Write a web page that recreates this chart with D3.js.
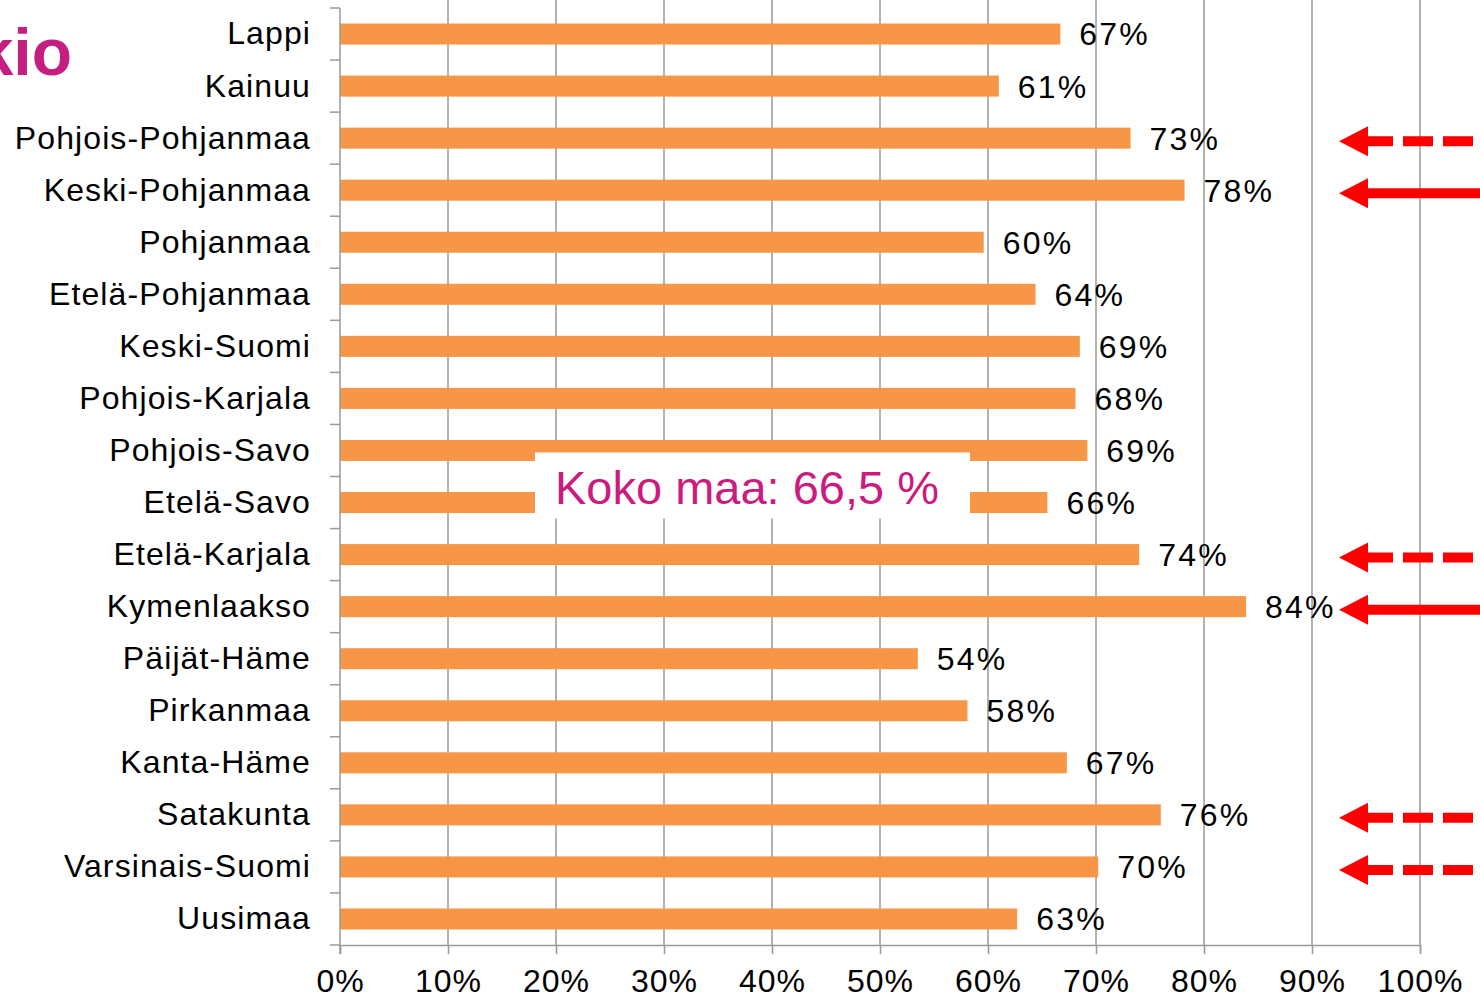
<!DOCTYPE html>
<html>
<head>
<meta charset="utf-8">
<script src="https://cdn.jsdelivr.net/npm/d3@7"></script>
<style>
  body { margin: 0; background: #fff; }
  svg { display: block; font-family: "Liberation Sans", Arial, sans-serif; }
</style>
</head>
<body>
<div id="chart"></div>
<script>
// data
const regions = ["Lappi", "Kainuu", "Pohjois-Pohjanmaa", "Keski-Pohjanmaa", "Pohjanmaa",
  "Etelä-Pohjanmaa", "Keski-Suomi", "Pohjois-Karjala", "Pohjois-Savo", "Etelä-Savo",
  "Etelä-Karjala", "Kymenlaakso", "Päijät-Häme", "Pirkanmaa", "Kanta-Häme",
  "Satakunta", "Varsinais-Suomi", "Uusimaa"];
const shares = [66.7, 61.0, 73.2, 78.2, 59.6, 64.4, 68.5, 68.1, 69.2, 65.5,
  74.0, 83.9, 53.5, 58.1, 67.3, 76.0, 70.2, 62.7];
const xTicks = [0, 10, 20, 30, 40, 50, 60, 70, 80, 90, 100];
// arrows on the right: region -> line style
const arrowRegions = ["Pohjois-Pohjanmaa", "Keski-Pohjanmaa", "Etelä-Karjala", "Kymenlaakso", "Satakunta", "Varsinais-Suomi"];
const arrowDashed = [true, false, true, false, true, true];
const totalLabel = "Koko maa: 66,5 %";
const titleText = "kio";

const data = regions.map((r, i) => ({ region: r, value: shares[i] }));

const W = 1480, H = 999;
const plotLeft = 340, plotRight = 1420, plotTop = 8, plotBottom = 945;

const svg = d3.select("#chart").append("svg")
  .attr("width", W).attr("height", H);

const x = d3.scaleLinear().domain([0, 100]).range([plotLeft, plotRight]);
const band = d3.scaleBand().domain(regions).range([plotTop, plotBottom]);
const barH = 21;
const mid = r => band(r) + band.bandwidth() / 2;

// gridlines
svg.append("g")
  .selectAll("line")
  .data(xTicks.slice(1))
  .enter().append("line")
  .attr("x1", d => x(d)).attr("x2", d => x(d))
  .attr("y1", 0).attr("y2", plotBottom)
  .attr("stroke", "#9a9a9a").attr("stroke-width", 1.5);

// bars
svg.selectAll(".bar")
  .data(data)
  .enter().append("rect")
  .attr("class", "bar")
  .attr("x", x(0))
  .attr("y", d => mid(d.region) - barH / 2)
  .attr("width", d => x(d.value) - x(0))
  .attr("height", barH)
  .attr("fill", "#f79646");

// value labels
svg.selectAll(".val")
  .data(data)
  .enter().append("text")
  .attr("class", "val")
  .attr("x", d => x(d.value) + 19)
  .attr("y", d => mid(d.region) + 3)
  .attr("dominant-baseline", "middle")
  .style("font-size", "32px")
  .style("letter-spacing", "2.2px")
  .style("fill", "#000")
  .text(d => Math.round(d.value) + "%");

// y axis with ticks between categories
const yAxisG = svg.append("g");
yAxisG.append("line")
  .attr("x1", plotLeft).attr("x2", plotLeft)
  .attr("y1", plotTop).attr("y2", plotBottom + 9)
  .attr("stroke", "#9a9a9a").attr("stroke-width", 1.5);
yAxisG.selectAll(".ytick")
  .data(d3.range(regions.length + 1))
  .enter().append("line")
  .attr("x1", plotLeft - 10).attr("x2", plotLeft)
  .attr("y1", i => plotTop + i * band.step())
  .attr("y2", i => plotTop + i * band.step())
  .attr("stroke", "#9a9a9a").attr("stroke-width", 1.5);
yAxisG.selectAll(".ylab")
  .data(regions)
  .enter().append("text")
  .attr("x", plotLeft - 29)
  .attr("y", d => mid(d) + 2)
  .attr("text-anchor", "end")
  .attr("dominant-baseline", "middle")
  .style("font-size", "32px")
  .style("letter-spacing", "1.1px")
  .text(d => d);

// x axis
const xAxis = d3.axisBottom(x)
  .tickValues(xTicks)
  .tickSize(9)
  .tickPadding(15)
  .tickFormat(d => d + "%");
const xg = svg.append("g")
  .attr("transform", `translate(0,${plotBottom})`)
  .call(xAxis);
xg.select(".domain").attr("stroke", "#9a9a9a").attr("stroke-width", 1.5);
xg.selectAll(".tick line").attr("stroke", "#9a9a9a").attr("stroke-width", 1.5);
xg.selectAll(".tick text")
  .style("font-size", "32px")
  .style("letter-spacing", "1px")
  .style("font-family", "'Liberation Sans', Arial, sans-serif")
  .attr("fill", "#000");

// box with the national figure
const boxY = mid("Pohjois-Savo") + 2;
svg.append("rect")
  .attr("x", 535).attr("y", boxY)
  .attr("width", 435).attr("height", 66)
  .attr("fill", "#fff");
svg.append("text")
  .attr("x", 555)
  .attr("y", boxY + 52)
  .style("font-size", "47px")
  .style("fill", "#cc1b7e")
  .text(totalLabel);

// title fragment at the top left (cut off by the left edge, as in the source)
svg.append("text")
  .attr("x", 72).attr("y", 75)
  .attr("text-anchor", "end")
  .style("font-size", "66px")
  .style("font-weight", "bold")
  .style("fill", "#c41e80")
  .text(titleText);

// red arrows
const arrows = svg.append("g");
arrowRegions.forEach((r, i) => {
  const cy = mid(r) + 3;
  const g = arrows.append("g");
  g.append("line")
    .attr("x1", 1366).attr("x2", 1480)
    .attr("y1", cy).attr("y2", cy)
    .attr("stroke", "#ff0000")
    .attr("stroke-width", 10)
    .attr("stroke-dasharray", arrowDashed[i] ? "27,10,30,10,30" : null);
  g.append("path")
    .attr("d", `M1339,${cy} L1368,${cy - 15} L1368,${cy + 15} Z`)
    .attr("fill", "#ff0000");
});
</script>
</body>
</html>
